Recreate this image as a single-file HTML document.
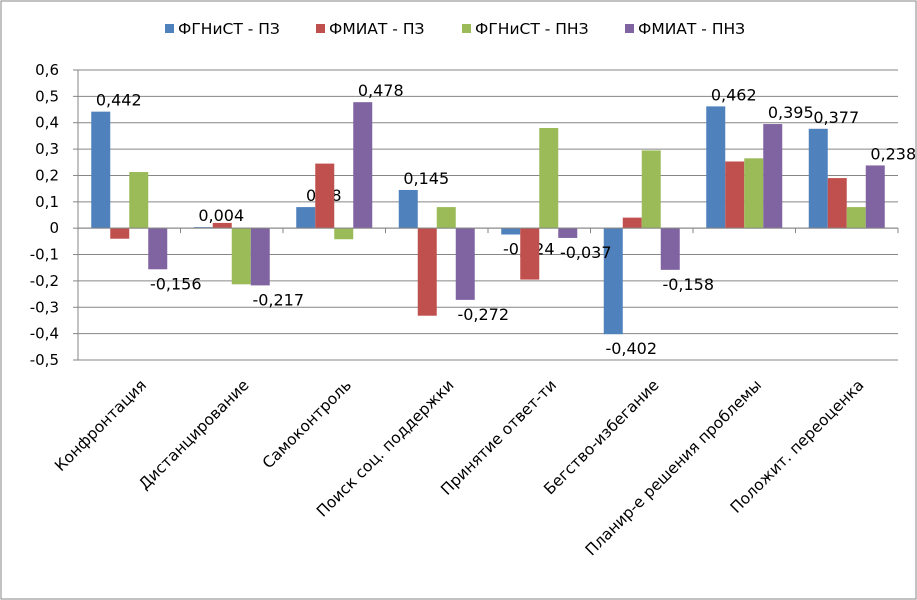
<!DOCTYPE html>
<html><head><meta charset="utf-8"><style>
body{margin:0;background:#fff}
svg{display:block;font-family:"DejaVu Sans","Liberation Sans",sans-serif}
</style></head><body>
<svg id="c" width="917" height="600">
<rect x="1" y="1" width="915" height="598" fill="#fff" stroke="#868686"/>
<g id="legend"></g>
<g id="grid"></g>
<g id="bars"></g>
<g id="axes"></g>
</svg>
<script>
const categories=["Конфронтация","Дистанцирование","Самоконтроль","Поиск соц. поддержки","Принятие ответ-ти","Бегство-избегание","Планир-е решения проблемы","Положит. переоценка"];
const seriesNames=["ФГНиСТ - ПЗ","ФМИАТ - ПЗ","ФГНиСТ - ПНЗ","ФМИАТ - ПНЗ"];
const s1=[0.442,0.004,0.08,0.145,-0.024,-0.402,0.462,0.377];
const s2=[-0.04,0.02,0.245,-0.332,-0.195,0.04,0.253,0.19];
const s3=[0.213,-0.213,-0.042,0.08,0.38,0.295,0.265,0.08];
const s4=[-0.156,-0.217,0.478,-0.272,-0.037,-0.158,0.395,0.238];
const yTicks=[0.6,0.5,0.4,0.3,0.2,0.1,0,-0.1,-0.2,-0.3,-0.4,-0.5];
const labelled=[true,false,false,true];
const colors=["#4F81BD","#C0504D","#9BBB59","#8064A2"];
const series=[s1,s2,s3,s4];
const NS="http://www.w3.org/2000/svg";
const L=78,R=898,T=70,B=360,yMax=0.6,yMin=-0.5;
const y=v=>T+(yMax-v)/(yMax-yMin)*(B-T);
const cw=(R-L)/categories.length;
const bw=19;
const x=(i,s)=>L+i*cw+(cw-4*bw)/2+s*bw;
function mk(tag,attrs,parent,text){const e=document.createElementNS(NS,tag);for(const k in attrs)e.setAttribute(k,attrs[k]);if(text!==undefined)e.textContent=text;parent.appendChild(e);return e;}
const fmt=v=>String(v).replace('.',',');
const grid=document.getElementById('grid'),axes=document.getElementById('axes'),bars=document.getElementById('bars'),leg=document.getElementById('legend');
yTicks.forEach(t=>{
 const g=mk('line',{x1:L,x2:R,y1:y(t),y2:y(t),stroke:'#868686','stroke-width':1},grid);
 
 
 const tl=mk('text',{x:L-19,y:y(t)+5,'text-anchor':'end','font-size':15,fill:'#000'},axes,fmt(t));
 
 
 mk('line',{x1:L-5,x2:L,y1:y(t),y2:y(t),stroke:'#868686'},axes);
});
mk('line',{x1:L,x2:L,y1:T,y2:B,stroke:'#868686'},axes);
for(let i=0;i<=categories.length;i++){mk('line',{x1:L+i*cw,x2:L+i*cw,y1:y(0),y2:y(0)+5,stroke:'#868686'},axes);}
categories.forEach((c,i)=>{
 const cx=L+i*cw+cw/2+18, cy=386;
 const t=mk('text',{x:cx,y:cy,'text-anchor':'end','font-size':15.5,fill:'#000',transform:`rotate(-45 ${cx} ${cy})`},axes,c);
 
 
});
series.forEach((s,si)=>{
 s.forEach((v,i)=>{
  const y0=y(0),yv=y(v);
  const r=mk('rect',{x:x(i,si),y:Math.min(y0,yv),width:bw,height:Math.max(Math.abs(yv-y0),0.5),fill:colors[si]},bars);
  
  
  if(labelled[si]){
   const ly=v>=0?yv-6:yv+20;
   const t=mk('text',{x:x(i,si)+bw/2+18,y:ly,'text-anchor':'middle','font-size':16,fill:'#000'},bars,fmt(v));
   
   
  }
 });
});
mk('line',{x1:L,x2:R,y1:y(0),y2:y(0),stroke:'#868686'},axes);
const legX=[165,316,462,625];
seriesNames.forEach((n,i)=>{
 const r=mk('rect',{x:legX[i],y:24,width:9,height:9,fill:colors[i]},leg);
 
 
 const t=mk('text',{x:legX[i]+13,y:34,'font-size':15.5,fill:'#000'},leg,n);
 
 
});
</script>
</body></html>
